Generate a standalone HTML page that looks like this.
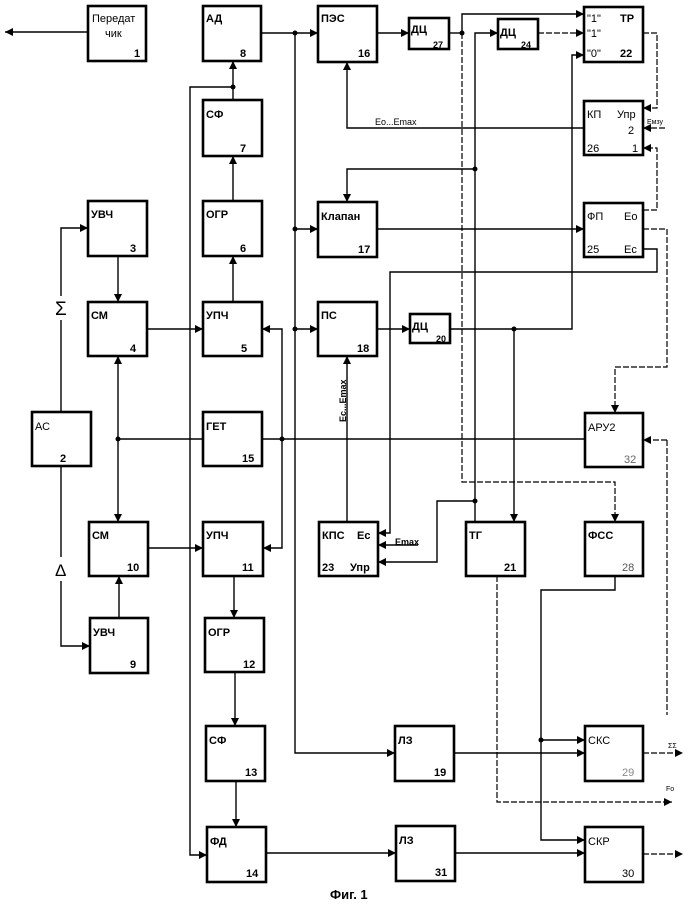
<!DOCTYPE html>
<html><head><meta charset="utf-8"><style>
html,body{margin:0;padding:0;background:#fff;}
svg{display:block;}
text{font-family:"Liberation Sans",sans-serif;font-weight:bold;font-size:11px;fill:#000;}
.b{fill:#fff;stroke:#000;stroke-width:2.6;}
.l{fill:none;stroke:#000;stroke-width:1.4;}
.d{fill:none;stroke:#000;stroke-width:1.2;stroke-dasharray:6,2;}
.n{font-weight:normal;}
</style></head><body>
<svg width="700" height="906" viewBox="0 0 700 906" xmlns="http://www.w3.org/2000/svg">
<defs><marker id="a" markerWidth="8" markerHeight="8" refX="8" refY="4" orient="auto" markerUnits="userSpaceOnUse"><path d="M0,0 L8,4 L0,8 z" fill="#000"/></marker></defs>
<g class="l">
<path d="M88,32 H5" marker-end="url(#a)"/>
<path d="M61,412 V228 H88" marker-end="url(#a)"/>
<path d="M61,466 V646 H90" marker-end="url(#a)"/>
<path d="M118,256 V302" marker-end="url(#a)"/>
<path d="M147,329 H203" marker-end="url(#a)"/>
<path d="M233,302 V256" marker-end="url(#a)"/>
<path d="M233,201 V156" marker-end="url(#a)"/>
<path d="M233,100 V61" marker-end="url(#a)"/>
<path d="M233,87 H190 V855 H207" marker-end="url(#a)"/>
<path d="M261,33 H318" marker-end="url(#a)"/>
<path d="M295,33 V753 H395" marker-end="url(#a)"/>
<path d="M295,229 H318" marker-end="url(#a)"/>
<path d="M295,329 H318" marker-end="url(#a)"/>
<path d="M118,439 H203"/>
<path d="M118,439 V356" marker-end="url(#a)"/>
<path d="M118,439 V522" marker-end="url(#a)"/>
<path d="M262,439 H585"/>
<path d="M282,439 V329 H262" marker-end="url(#a)"/>
<path d="M282,439 V548 H263" marker-end="url(#a)"/>
<path d="M148,548 H203" marker-end="url(#a)"/>
<path d="M119,618 V576" marker-end="url(#a)"/>
<path d="M234,576 V618" marker-end="url(#a)"/>
<path d="M235,672 V726" marker-end="url(#a)"/>
<path d="M236,781 V827" marker-end="url(#a)"/>
<path d="M266,853 H396" marker-end="url(#a)"/>
<path d="M455,853 H585" marker-end="url(#a)"/>
<path d="M454,753 H585" marker-end="url(#a)"/>
<path d="M377,33 H409" marker-end="url(#a)"/>
<path d="M449,33 H462"/>
<path d="M462,33 V14 H584" marker-end="url(#a)"/>
<path d="M475,169 V33 H498" marker-end="url(#a)"/>
<path d="M475,169 H347 V202" marker-end="url(#a)"/>
<path d="M475,169 V522"/>
<path d="M475,501 H437 V562 H378" marker-end="url(#a)"/>
<path d="M377,329 H410" marker-end="url(#a)"/>
<path d="M450,329 H514 V522" marker-end="url(#a)"/>
<path d="M514,329 H572 V55 H584" marker-end="url(#a)"/>
<path d="M584,128 H347 V62" marker-end="url(#a)"/>
<path d="M377,229 H584" marker-end="url(#a)"/>
<path d="M643,249 H657 V272 H390 V533 H378" marker-end="url(#a)"/>
<path d="M418,545 H378" marker-end="url(#a)"/>
<path d="M347,522 V356" marker-end="url(#a)"/>
<path d="M615,576 V590 H541 V840 H585" marker-end="url(#a)"/>
<path d="M541,740 H585" marker-end="url(#a)"/>
</g>
<g class="d">
<path d="M462,33 V482 H615 V522" marker-end="url(#a)"/>
<path d="M538,33 H584" marker-end="url(#a)"/>
<path d="M643,33 H657 V108 H643" marker-end="url(#a)"/>
<path d="M665,128 H643" marker-end="url(#a)"/>
<path d="M643,210 H657 V148 H643" marker-end="url(#a)"/>
<path d="M643,229 H667 V367 H615 V413" marker-end="url(#a)"/>
<path d="M667,440 H643" marker-end="url(#a)"/>
<path d="M667,440 V715"/>
<path d="M497,576 V802 H672" marker-end="url(#a)"/>
<path d="M643,753 H683" marker-end="url(#a)"/>
<path d="M643,854 H683" marker-end="url(#a)"/>
</g>
<g fill="#000">
<circle cx="233" cy="87" r="2.5"/><circle cx="295" cy="33" r="2.5"/><circle cx="295" cy="229" r="2.5"/><circle cx="295" cy="329" r="2.5"/>
<circle cx="118" cy="439" r="2.5"/><circle cx="282" cy="439" r="2.5"/><circle cx="462" cy="33" r="2.5"/><circle cx="475" cy="169" r="2.5"/>
<circle cx="475" cy="501" r="2.5"/><circle cx="514" cy="329" r="2.5"/><circle cx="541" cy="740" r="2.5"/>
</g>
<rect x="54" y="296" width="14" height="24" fill="#fff"/>
<rect x="54" y="557" width="14" height="24" fill="#fff"/>
<g>
<rect class="b" x="88" y="6" width="58" height="55"/>
<rect class="b" x="203" y="6" width="58" height="55"/>
<rect class="b" x="318" y="6" width="59" height="56"/>
<rect class="b" x="409" y="18" width="40" height="31"/>
<rect class="b" x="498" y="19" width="40" height="30"/>
<rect class="b" x="584" y="7" width="59" height="55"/>
<rect class="b" x="584" y="101" width="59" height="54"/>
<rect class="b" x="318" y="202" width="59" height="55"/>
<rect class="b" x="584" y="203" width="59" height="54"/>
<rect class="b" x="203" y="100" width="59" height="56"/>
<rect class="b" x="203" y="201" width="59" height="55"/>
<rect class="b" x="88" y="201" width="59" height="55"/>
<rect class="b" x="88" y="302" width="59" height="54"/>
<rect class="b" x="203" y="302" width="59" height="54"/>
<rect class="b" x="32" y="412" width="59" height="54"/>
<rect class="b" x="203" y="412" width="59" height="54"/>
<rect class="b" x="318" y="302" width="59" height="54"/>
<rect class="b" x="410" y="314" width="40" height="29"/>
<rect class="b" x="585" y="413" width="58" height="54"/>
<rect class="b" x="319" y="522" width="59" height="54"/>
<rect class="b" x="466" y="522" width="59" height="54"/>
<rect class="b" x="585" y="522" width="58" height="54"/>
<rect class="b" x="89" y="522" width="59" height="54"/>
<rect class="b" x="203" y="522" width="60" height="54"/>
<rect class="b" x="90" y="618" width="58" height="55"/>
<rect class="b" x="205" y="618" width="59" height="54"/>
<rect class="b" x="206" y="726" width="59" height="55"/>
<rect class="b" x="207" y="827" width="59" height="55"/>
<rect class="b" x="395" y="726" width="59" height="55"/>
<rect class="b" x="396" y="826" width="59" height="55"/>
<rect class="b" x="585" y="726" width="58" height="55"/>
<rect class="b" x="585" y="827" width="58" height="55"/>
</g>
<g>
<text x="92" y="22" class="n">Передат</text><text x="105" y="37" class="n">чик</text><text x="134" y="57">1</text>
<text x="206" y="22">АД</text><text x="240" y="57">8</text>
<text x="321" y="22">ПЭС</text><text x="358" y="57">16</text>
<text x="411" y="33">ДЦ</text><text x="433" y="48" style="font-size:9px">27</text>
<text x="500" y="36">ДЦ</text><text x="521" y="48" style="font-size:9px">24</text>
<text x="587" y="22" class="n">"1"</text><text x="620" y="22">ТР</text>
<text x="587" y="37" class="n">"1"</text>
<text x="587" y="57" class="n">"0"</text><text x="620" y="57">22</text>
<text x="587" y="118" class="n">КП</text><text x="617" y="118" class="n">Упр</text>
<text x="628" y="134" class="n">2</text>
<text x="587" y="152" class="n">26</text><text x="632" y="152" class="n">1</text>
<text x="321" y="220">Клапан</text><text x="358" y="253">17</text>
<text x="587" y="220" class="n">ФП</text><text x="624" y="220" class="n">Eo</text>
<text x="587" y="253" class="n">25</text><text x="624" y="253" class="n">Ec</text>
<text x="206" y="118">СФ</text><text x="240" y="152">7</text>
<text x="206" y="218">ОГР</text><text x="240" y="252">6</text>
<text x="91" y="218">УВЧ</text><text x="130" y="252">3</text>
<text x="91" y="319">СМ</text><text x="130" y="352">4</text>
<text x="206" y="319">УПЧ</text><text x="241" y="352">5</text>
<text x="35" y="430" class="n">АС</text><text x="60" y="462">2</text>
<text x="206" y="430">ГЕТ</text><text x="242" y="462">15</text>
<text x="321" y="319">ПС</text><text x="357" y="352">18</text>
<text x="412" y="330">ДЦ</text><text x="436" y="342" style="font-size:9px">20</text>
<text x="588" y="431" class="n">АРУ2</text><text x="624" y="463" class="n" style="fill:#666">32</text>
<text x="322" y="539">КПС</text><text x="357" y="539">Ec</text>
<text x="322" y="571">23</text><text x="350" y="571">Упр</text>
<text x="469" y="539">ТГ</text><text x="504" y="571">21</text>
<text x="588" y="539">ФСС</text><text x="622" y="571" class="n" style="fill:#555">28</text>
<text x="92" y="539">СМ</text><text x="127" y="571">10</text>
<text x="206" y="539">УПЧ</text><text x="242" y="571">11</text>
<text x="93" y="636">УВЧ</text><text x="130" y="668">9</text>
<text x="208" y="636">ОГР</text><text x="243" y="668">12</text>
<text x="209" y="744">СФ</text><text x="245" y="776">13</text>
<text x="210" y="845">ФД</text><text x="246" y="877">14</text>
<text x="398" y="744">ЛЗ</text><text x="434" y="776">19</text>
<text x="399" y="844">ЛЗ</text><text x="435" y="876">31</text>
<text x="588" y="744" class="n">СКС</text><text x="622" y="776" class="n" style="fill:#888">29</text>
<text x="588" y="845" class="n">СКР</text><text x="622" y="877" class="n">30</text>
<text x="330" y="899" style="font-size:13px">Фиг. 1</text>
<text x="55" y="315" class="n" style="font-size:19px">Σ</text>
<text x="55" y="576" class="n" style="font-size:17px">Δ</text>
<text x="375" y="125" class="n" style="font-size:9px">Eo...Emax</text>
<text x="395" y="545" style="font-size:9px">Emax</text>
<text x="346" y="422" style="font-size:9px" transform="rotate(-90 346 422)">Ec...Emax</text>
<text x="647" y="124" class="n" style="font-size:7px">Eмзу</text>
<text x="668" y="748" class="n" style="font-size:7px">ΣΣ</text>
<text x="666" y="791" class="n" style="font-size:7px">Fo</text>
</g>
</svg>
</body></html>
